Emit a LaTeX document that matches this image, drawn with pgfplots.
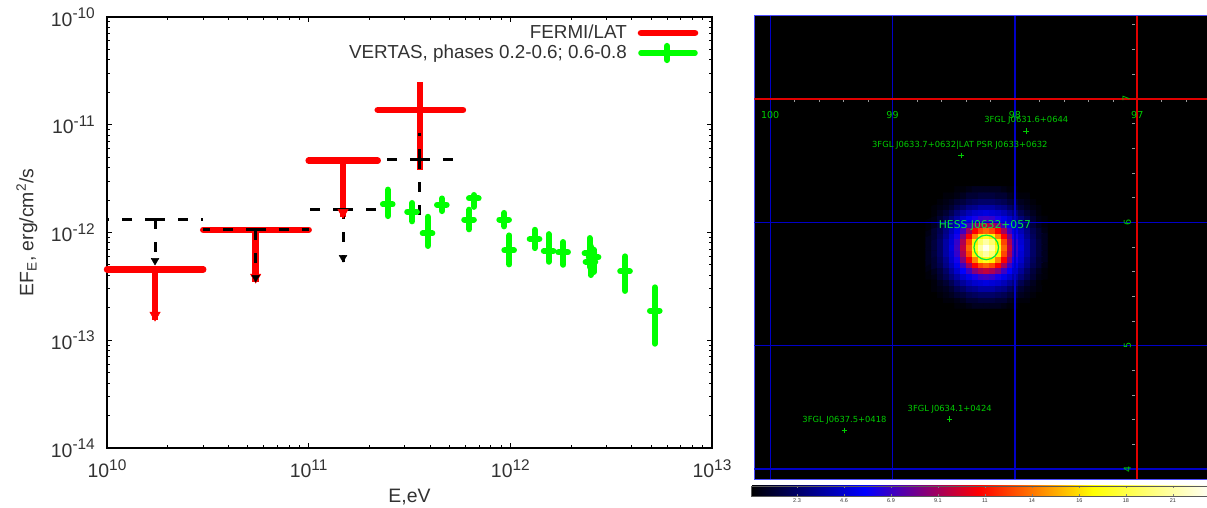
\documentclass[border=0pt]{standalone}
\usepackage{pgfplots}
\usepackage{pgfplotstable}
\usepackage{fontspec}
\setmainfont{Liberation Sans}
\newfontfamily\skyfont{DejaVu Sans}
\pgfplotsset{compat=1.18}
\definecolor{lab}{RGB}{50,50,50}
\definecolor{skygreen}{RGB}{0,205,0}
\definecolor{hessgreen}{RGB}{0,235,60}
\definecolor{gridblue}{RGB}{0,0,200}
\definecolor{fmred}{RGB}{255,0,0}
\definecolor{vgreen}{RGB}{0,255,0}
\newcommand{\tl}[2]{\smash{#1\raisebox{7.5bp}{\fontsize{15.5}{16}\selectfont #2}}}
\pgfplotstableread{
x y xlo xhi ylo yhi
1.73e10 4.55e-13 1e10 3e10 1.54e-13 4.55e-13
5.46e10 1.06e-12 3e10 1e11 3.47e-13 1.06e-12
1.48e11 4.64e-12 1e11 2.2e11 1.39e-12 4.64e-12
3.56e11 1.37e-11 2.2e11 5.82e11 3.8e-12 2.49e-11
}\fermi
\pgfplotstableread{
x y xlo xhi ylo yhi
1.73e10 1.33e-12 1e10 3e10 4.99e-13 1.33e-12
5.46e10 1.06e-12 3e10 1e11 3.47e-13 1.06e-12
1.48e11 1.64e-12 1e11 2.23e11 5.32e-13 1.64e-12
3.56e11 4.81e-12 2.18e11 5.89e11 1.39e-12 8.38e-12
}\limtab
\pgfplotstableread{
x y ylo yhi
2.47e11 1.82e-12 1.42e-12 2.50e-12
3.26e11 1.56e-12 1.27e-12 1.88e-12
3.89e11 9.8e-13 7.5e-13 1.40e-12
4.58e11 1.81e-12 1.58e-12 2.07e-12
6.25e11 1.32e-12 1.07e-12 1.63e-12
6.6e11 2.07e-12 1.73e-12 2.23e-12
9.33e11 1.32e-12 1.14e-12 1.52e-12
9.88e11 6.84e-13 5.06e-13 9.4e-13
1.32e12 8.7e-13 7.17e-13 1.06e-12
1.55e12 6.73e-13 5.35e-13 9.66e-13
1.83e12 6.55e-13 5.02e-13 8.16e-13
2.47e12 6.41e-13 4.79e-13 8.89e-13
2.59e12 5.89e-13 4.3e-13 6.92e-13
2.5e12 5.36e-13 4.03e-13 7.45e-13
3.71e12 4.37e-13 2.87e-13 6.01e-13
5.21e12 1.88e-13 9.29e-14 3.1e-13
}\veritas
\begin{document}
\begin{tikzpicture}
\path[use as bounding box] (0bp,0bp) rectangle (1207bp,508bp);
\begin{axis}[
  at={(107bp,60bp)}, anchor=south west, scale only axis,
  width=605bp, height=431bp,
  xmode=log, ymode=log, xmin=1e10, xmax=1e13, ymin=1e-14, ymax=1e-10,
  clip=false,
  axis line style={black,line width=1.6bp},
  tick align=inside, major tick length=5bp, minor tick length=3bp,
  every tick/.style={black,line width=1bp},
  xtick={1e10,1e11,1e12,1e13},
  xticklabels={\tl{10}{10},\tl{10}{11},\tl{10}{12},\tl{10}{13}},
  ytick={1e-14,1e-13,1e-12,1e-11,1e-10},
  yticklabels={\tl{10}{-14},\tl{10}{-13},\tl{10}{-12},\tl{10}{-11},\tl{10}{-10}},
  ticklabel style={font=\fontsize{19.5}{20}\selectfont,text=lab,inner sep=0pt},
  xticklabel style={anchor=north,yshift=-29bp},
  yticklabel style={anchor=east,xshift=-12bp,yshift=-9bp},
  xlabel={E,eV}, ylabel={EF\textsubscript{E}, erg/cm\textsuperscript{2}/s},
  label style={font=\fontsize{19.5}{22}\selectfont,text=lab},
  xlabel style={at={(axis description cs:0.5,0)},anchor=north,yshift=-38bp},
  ylabel style={at={(axis description cs:0,0.5)},anchor=south,yshift=66bp},
]
% FERMI/LAT
\addplot[forget plot,draw=none,mark=none,
  error bars/.cd,x dir=both,x explicit,error mark=none,
  error bar style={fmred,line width=6.5bp,line cap=round}]
  table[x=x,y=y,x error plus expr=\thisrow{xhi}-\thisrow{x},x error minus expr=\thisrow{x}-\thisrow{xlo}]{\fermi};
\addplot[forget plot,draw=none,mark=none,
  error bars/.cd,y dir=both,y explicit,error mark=none,
  error bar style={fmred,line width=6.5bp}]
  table[x=x,y=y,y error plus expr=\thisrow{yhi}-\thisrow{y},y error minus expr=\thisrow{y}-\thisrow{ylo}]{\fermi};
\addplot[forget plot,only marks,mark=triangle*,mark size=6bp,mark options={fmred,fill=fmred,rotate=180}]
  coordinates {(1.73e10,1.71e-13)(5.46e10,3.85e-13)(1.48e11,1.54e-12)};
% dashed limits
\addplot[forget plot,draw=none,mark=none,
  error bars/.cd,x dir=both,x explicit,error mark=none,
  error bar style={black,line width=3bp,dash pattern=on 10bp off 13bp}]
  table[x=x,y=y,x error plus expr=\thisrow{xhi}-\thisrow{x},x error minus expr=\thisrow{x}-\thisrow{xlo}]{\limtab};
\addplot[forget plot,draw=none,mark=none,
  error bars/.cd,y dir=both,y explicit,error mark=none,
  error bar style={black,line width=3bp,dash pattern=on 10bp off 13bp}]
  table[x=x,y=y,y error plus expr=\thisrow{yhi}-\thisrow{y},y error minus expr=\thisrow{y}-\thisrow{ylo}]{\limtab};
\addplot[forget plot,only marks,mark=triangle*,mark size=4.5bp,mark options={black,fill=black,rotate=180}]
  coordinates {(1.73e10,5.49e-13)(5.46e10,3.82e-13)(1.48e11,5.85e-13)};
% VERITAS
\addplot[forget plot,draw=none,mark=none,
  error bars/.cd,x dir=both,y dir=both,x explicit,y explicit,error mark=none,
  error bar style={vgreen,line width=6bp,line cap=round}]
  table[x=x,y=y,x error expr=0.055*\thisrow{x},y error plus expr=\thisrow{yhi}-\thisrow{y},y error minus expr=\thisrow{y}-\thisrow{ylo}]{\veritas};
% key
\begin{scope}[font=\fontsize{18.9}{20}\selectfont,text=lab]
\node[anchor=base east,inner sep=0pt] at (rel axis cs:0.8595,0.949) {FERMI/LAT};
\node[anchor=base east,inner sep=0pt] at (rel axis cs:0.8595,0.9037) {VERTAS, phases 0.2-0.6; 0.6-0.8};
\end{scope}
\draw[fmred,line width=6.5bp,line cap=round] (rel axis cs:0.8826,0.9629)--(rel axis cs:0.9719,0.9629);
\draw[vgreen,line width=5.5bp,line cap=round] (rel axis cs:0.8826,0.9165)--(rel axis cs:0.9719,0.9165);
\draw[vgreen,line width=6bp,line cap=round] (rel axis cs:0.9256,0.9000)--(rel axis cs:0.9256,0.9330);
\end{axis}

\begin{axis}[
  at={(754.3bp,29bp)}, anchor=south west, scale only axis,
  width=452.7bp, height=463bp,
  x dir=reverse,
  xmin=96.43, xmax=100.13, ymin=3.92, ymax=7.67,
  ticks=none,
  axis line style={color=blue!70!white,line width=1bp},
  axis background/.style={fill=black},
  colormap={skymap}{rgb255(0)=(0,0,0); rgb255(1)=(0,0,255); rgb255(2)=(255,0,0); rgb255(3)=(255,255,0); rgb255(4)=(255,255,240)},
  point meta min=0, point meta max=1,
  colorbar horizontal,
  colorbar style={
    at={(-0.0073,-0.0151)}, anchor=north west,
    width=456bp, height=10bp, scale only axis,
    xtick={0.1009,0.204,0.307,0.41,0.513,0.616,0.72,0.822,0.925},
    xticklabels={2.3,4.6,6.9,9.1,11,14,16,18,21},
    xticklabel style={font=\fontsize{5.5}{6}\selectfont,text=lab,yshift=1bp},
    major tick length=2bp,
    every tick/.style={gray},
    axis line style={draw=gray!70!black,line width=0.6bp},
  },
]
\addplot[matrix plot*,mesh/cols=21,mesh/ordering=x varies,point meta=\thisrow{v}]
 table[row sep=\\,x expr={98.707-0.0475*mod(\coordindex,21)},y expr={5.326+0.047*floor(\coordindex/21)}]{
v\\
0\\0\\0\\0\\0\\.01\\.01\\.02\\.03\\.03\\.03\\.03\\.03\\.02\\.01\\.01\\0\\0\\0\\0\\0\\
0\\0\\0\\.01\\.01\\.02\\.03\\.05\\.05\\.06\\.06\\.06\\.05\\.05\\.03\\.02\\.01\\.01\\0\\0\\0\\
0\\0\\.01\\.02\\.03\\.05\\.06\\.08\\.09\\.10\\.10\\.10\\.09\\.08\\.06\\.05\\.03\\.02\\.01\\0\\0\\
0\\.01\\.02\\.03\\.05\\.08\\.10\\.13\\.14\\.16\\.16\\.16\\.14\\.13\\.10\\.08\\.05\\.03\\.02\\.01\\0\\
0\\.01\\.03\\.05\\.08\\.12\\.15\\.18\\.20\\.21\\.22\\.21\\.20\\.18\\.15\\.12\\.08\\.05\\.03\\.01\\0\\
.01\\.02\\.05\\.08\\.12\\.16\\.20\\.23\\.27\\.30\\.31\\.30\\.27\\.23\\.20\\.16\\.12\\.08\\.05\\.02\\.01\\
.01\\.03\\.06\\.10\\.15\\.20\\.25\\.31\\.38\\.42\\.44\\.42\\.38\\.31\\.25\\.20\\.15\\.10\\.06\\.03\\.01\\
.02\\.05\\.08\\.13\\.18\\.23\\.31\\.41\\.50\\.57\\.60\\.57\\.50\\.41\\.31\\.23\\.18\\.13\\.08\\.05\\.02\\
.03\\.05\\.09\\.14\\.20\\.27\\.38\\.50\\.63\\.74\\.78\\.74\\.63\\.50\\.38\\.27\\.20\\.14\\.09\\.05\\.03\\
.03\\.06\\.10\\.16\\.21\\.30\\.42\\.57\\.74\\.86\\.92\\.86\\.74\\.57\\.42\\.30\\.21\\.16\\.10\\.06\\.03\\
.03\\.06\\.10\\.16\\.22\\.31\\.44\\.60\\.78\\.92\\1.00\\.92\\.78\\.60\\.44\\.31\\.22\\.16\\.10\\.06\\.03\\
.03\\.06\\.10\\.16\\.21\\.30\\.42\\.57\\.74\\.86\\.92\\.86\\.74\\.57\\.42\\.30\\.21\\.16\\.10\\.06\\.03\\
.03\\.05\\.09\\.14\\.20\\.27\\.38\\.50\\.63\\.74\\.78\\.74\\.63\\.50\\.38\\.27\\.20\\.14\\.09\\.05\\.03\\
.02\\.05\\.08\\.13\\.18\\.23\\.31\\.41\\.50\\.57\\.60\\.57\\.50\\.41\\.31\\.23\\.18\\.13\\.08\\.05\\.02\\
.01\\.03\\.06\\.10\\.15\\.20\\.25\\.31\\.38\\.42\\.44\\.42\\.38\\.31\\.25\\.20\\.15\\.10\\.06\\.03\\.01\\
.01\\.02\\.05\\.08\\.12\\.16\\.20\\.23\\.27\\.30\\.31\\.30\\.27\\.23\\.20\\.16\\.12\\.08\\.05\\.02\\.01\\
0\\.01\\.03\\.05\\.08\\.12\\.15\\.18\\.20\\.21\\.22\\.21\\.20\\.18\\.15\\.12\\.08\\.05\\.03\\.01\\0\\
0\\.01\\.02\\.03\\.05\\.08\\.10\\.13\\.14\\.16\\.16\\.16\\.14\\.13\\.10\\.08\\.05\\.03\\.02\\.01\\0\\
0\\0\\.01\\.02\\.03\\.05\\.06\\.08\\.09\\.10\\.10\\.10\\.09\\.08\\.06\\.05\\.03\\.02\\.01\\0\\0\\
0\\0\\0\\.01\\.01\\.02\\.03\\.05\\.05\\.06\\.06\\.06\\.05\\.05\\.03\\.02\\.01\\.01\\0\\0\\0\\
0\\0\\0\\0\\0\\.01\\.01\\.02\\.03\\.03\\.03\\.03\\.03\\.02\\.01\\.01\\0\\0\\0\\0\\0\\
};
% coordinate grid
\addplot[gridblue,line width=1.2bp] coordinates {(100,3.92)(100,7.67)};
\addplot[gridblue,line width=1.2bp] coordinates {(99,3.92)(99,7.67)};
\addplot[gridblue,line width=1.2bp] coordinates {(98,3.92)(98,7.67)};
\addplot[gridblue,line width=1.2bp] coordinates {(96.43,6)(100.13,6)};
\addplot[gridblue,line width=1.5bp] coordinates {(96.43,5)(100.13,5)};
\addplot[gridblue,line width=1.5bp] coordinates {(96.43,4)(100.13,4)};
\addplot[fmred!88!black,line width=2bp] coordinates {(96.43,7)(100.13,7)};
\addplot[fmred!88!black,line width=2bp] coordinates {(97,3.92)(97,7.67)};
% graticule ticks
\addplot[only marks,mark=|,mark size=1.3bp,mark options={gray!80,line width=0.5bp}] coordinates {
 (99.8,6.98)(99.6,6.98)(99.4,6.98)(99.2,6.98)(98.8,6.98)(98.6,6.98)(98.4,6.98)(98.2,6.98)
 (97.8,6.98)(97.6,6.98)(97.4,6.98)(97.2,6.98)(96.8,6.98)(96.6,6.98)};
\addplot[only marks,mark=-,mark size=1.3bp,mark options={gray!80,line width=0.5bp}] coordinates {
 (97.03,7.6)(97.03,7.4)(97.03,7.2)(97.03,6.8)(97.03,6.6)(97.03,6.4)(97.03,6.2)
 (97.03,5.8)(97.03,5.6)(97.03,5.4)(97.03,5.2)(97.03,4.8)(97.03,4.6)(97.03,4.4)(97.03,4.2)};
% catalogue sources
\addplot[only marks,mark=+,mark size=2.8bp,mark options={skygreen,line width=0.6bp}] coordinates {
 (97.907,6.737)(98.44,6.54)(98.533,4.404)(99.393,4.314)};
\addplot[only marks,mark=o,mark size=12.3bp,mark options={hessgreen,line width=1.2bp,fill=none}] coordinates {(98.234,5.796)};
\begin{scope}[font=\skyfont\fontsize{8.4}{9}\selectfont,text=skygreen]
\node at (axis cs:97.907,6.823) {3FGL J0631.6+0644};
\node at (axis cs:98.45,6.62) {3FGL J0633.7+0632|LAT PSR J0633+0632};
\node at (axis cs:98.533,4.488) {3FGL J0634.1+0424};
\node at (axis cs:99.393,4.392) {3FGL J0637.5+0418};
\node[font=\skyfont\fontsize{9.6}{10}\selectfont] at (axis cs:100,6.865) {100};
\node[font=\skyfont\fontsize{9.6}{10}\selectfont] at (axis cs:99,6.865) {99};
\node[font=\skyfont\fontsize{9.6}{10}\selectfont] at (axis cs:98,6.865) {98};
\node[font=\skyfont\fontsize{9.6}{10}\selectfont] at (axis cs:97,6.865) {97};
\node[rotate=90,font=\skyfont\fontsize{9.6}{10}\selectfont] at (axis cs:97.09,7) {7};
\node[rotate=90,font=\skyfont\fontsize{9.6}{10}\selectfont] at (axis cs:97.08,6) {6};
\node[rotate=90,font=\skyfont\fontsize{9.6}{10}\selectfont] at (axis cs:97.08,5) {5};
\node[rotate=90,font=\skyfont\fontsize{9.6}{10}\selectfont] at (axis cs:97.08,4) {4};
\node[text=hessgreen,font=\skyfont\fontsize{10.8}{11}\selectfont] at (axis cs:98.245,5.97) {HESS J0632+057};
\end{scope}
\end{axis}
\end{tikzpicture}
\end{document}
